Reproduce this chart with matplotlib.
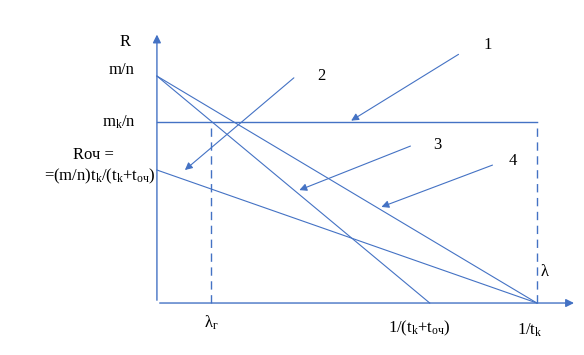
import matplotlib
matplotlib.use('Agg')
import matplotlib.pyplot as plt

plt.rcParams['font.family'] = ['Liberation Serif', 'DejaVu Serif']
plt.rcParams['mathtext.fontset'] = 'custom'
plt.rcParams['mathtext.rm'] = 'Liberation Serif'
plt.rcParams['mathtext.it'] = 'Liberation Serif:italic'

# values in chart units (1/t_k = 1, m/n = 1)
lam_k = 1.0           # 1/t_k
lam_kt = 0.718        # 1/(t_k+t_oч)
lam_r = 0.142         # λ_г
r_mn = 1.0            # m/n
r_mk = 0.797          # m_k/n
r_och = 0.586         # Rоч

# callouts: label, label pos, arrow start, arrow tip
callouts = [
    ('1', (0.871, 1.137), (0.800, 1.102), (0.505, 0.797)),
    ('2', (0.432, 0.999), (0.366, 1.000), (0.068, 0.578)),
    ('3', (0.737, 0.696), (0.674, 0.696), (0.368, 0.493)),
    ('4', (0.937, 0.626), (0.890, 0.612), (0.584, 0.419)),
]

blue = '#4472C4'

fig = plt.figure(figsize=(5.84, 3.55), dpi=100)
ax = fig.add_axes([0, 0, 1, 1])
ax.set_xlim(-0.413, 1.124)
ax.set_ylim(-0.229, 1.335)
ax.axis('off')

# axes with arrows
ax.annotate('', xy=(1.105, 0), xytext=(0, 0),
            arrowprops=dict(arrowstyle='-|>', color=blue, lw=1, mutation_scale=12))
ax.annotate('', xy=(0, 1.195), xytext=(0, 0),
            arrowprops=dict(arrowstyle='-|>', color=blue, lw=1, mutation_scale=12))

# lines
ax.plot([0, lam_k], [r_mk, r_mk], color=blue, lw=1)
ax.plot([0, lam_k], [r_mn, 0], color=blue, lw=0.8)
ax.plot([0, lam_kt], [r_mn, 0], color=blue, lw=0.8)
ax.plot([0, lam_k], [r_och, 0], color=blue, lw=0.8)
ax.plot([lam_k, lam_k], [0, r_mk], color=blue, lw=1, ls=(0, (6, 4)))
ax.plot([lam_r, lam_r], [0, r_mk], color=blue, lw=1, ls=(0, (6, 4)))

for lab, tp, st, tip in callouts:
    ax.annotate('', xy=tip, xytext=st,
                arrowprops=dict(arrowstyle='-|>', color=blue, lw=0.8, mutation_scale=11))
    ax.text(tp[0], tp[1], lab, fontsize=12, ha='center', va='center')

fs = 12
ax.text(-0.083, 1.150, 'R', fontsize=fs, ha='center', va='center')
ax.text(-0.093, 1.025, 'm/n', fontsize=fs, ha='center', va='center')
ax.text(-0.100, 0.797, r'm$_\mathrm{k}$/n', fontsize=fs, ha='center', va='center')
ax.text(-0.168, 0.652, 'Rоч =', fontsize=fs, ha='center', va='center')
ax.text(-0.150, 0.560, r'=(m/n)t$_\mathrm{k}$/(t$_\mathrm{k}$+t$_\mathrm{оч}$)',
        fontsize=fs, ha='center', va='center')
ax.text(1.020, 0.135, 'λ', fontsize=fs, ha='center', va='center')
ax.text(0.142, -0.085, r'λ$_\mathrm{г}$', fontsize=fs, ha='center', va='center')
ax.text(0.690, -0.110, r'1/(t$_\mathrm{k}$+t$_\mathrm{оч}$)', fontsize=fs, ha='center', va='center')
ax.text(0.980, -0.120, r'1/t$_\mathrm{k}$', fontsize=fs, ha='center', va='center')

fig.savefig('out.png', dpi=100)
